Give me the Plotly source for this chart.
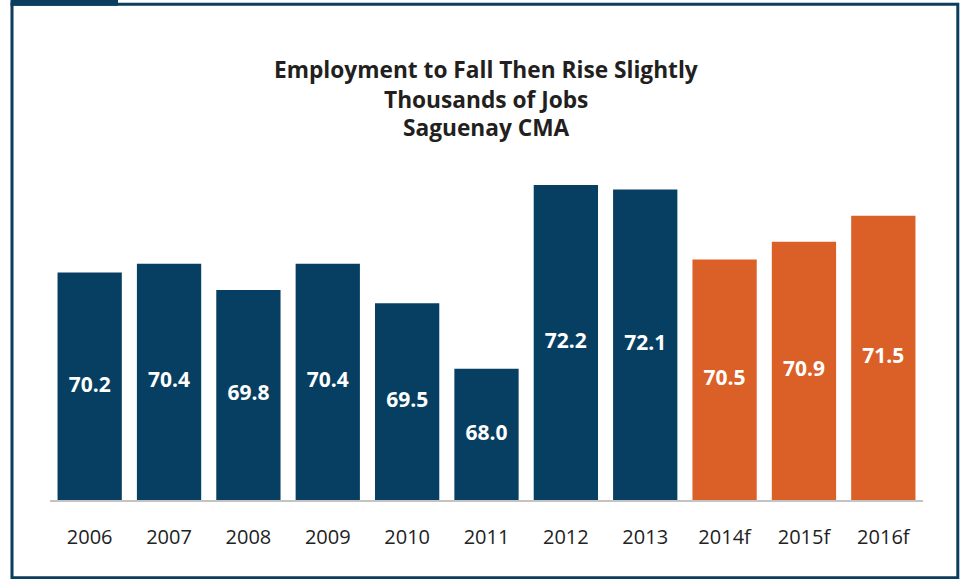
import plotly.graph_objects as go

categories = ["2006", "2007", "2008", "2009", "2010", "2011", "2012", "2013", "2014f", "2015f", "2016f"]
values = [70.2, 70.4, 69.8, 70.4, 69.5, 68.0, 72.2, 72.1, 70.5, 70.9, 71.5]
is_forecast = [False] * 8 + [True] * 3
title_lines = ["Employment to Fall Then Rise Slightly", "Thousands of Jobs", "Saguenay CMA"]
axis_min = 65

BLUE = "#073f62"
ORANGE = "#db6027"
FRAME = "#0b3d5e"

W, H = 961, 579
ML, MR, MT, MB = 50, 38, 150, 79
PW, PH = W - ML - MR, H - MT - MB

def px(x):
    return (x - ML) / PW

def py(y):
    return (H - MB - y) / PH

colors = [ORANGE if f else BLUE for f in is_forecast]

fig = go.Figure()
fig.add_trace(go.Bar(
    x=categories, y=values,
    marker=dict(color=colors, line=dict(width=0)),
    hoverinfo="x+y",
))
# value labels centred in the visible part of each bar
fig.add_trace(go.Scatter(
    x=categories, y=[(axis_min + v) / 2 for v in values],
    mode="text", text=[f"{v:.1f}" for v in values],
    textposition="middle center",
    textfont=dict(family="Open Sans", size=21, color="white", weight="bold"),
    hoverinfo="skip",
))

fig.update_layout(
    width=W, height=H,
    margin=dict(l=ML, r=MR, t=MT, b=MB),
    paper_bgcolor="white", plot_bgcolor="white",
    bargap=0.19,
    showlegend=False,
    xaxis=dict(
        range=[-0.5, len(categories) - 0.5],
        showline=True, linecolor="#c3c3c3", linewidth=1.5,
        ticks="outside", ticklen=18, tickcolor="rgba(0,0,0,0)",
        tickfont=dict(family="Open Sans", size=20, color="#222222"),
        showgrid=False,
    ),
    yaxis=dict(range=[axis_min, 73], visible=False, showgrid=False),
)

# title lines
ys = [70, 99, 127]
for t, yy in zip(title_lines, ys):
    fig.add_annotation(
        xref="paper", yref="paper", x=px(486), y=py(yy),
        text=f"<b>{t}</b>", showarrow=False, xanchor="center", yanchor="middle",
        font=dict(family="Open Sans", size=22.7, color="#231f20"),
    )

# frame
fig.add_shape(type="rect", xref="paper", yref="paper",
              x0=px(12), x1=px(957.8), y0=py(577.8), y1=py(4.3),
              line=dict(color=FRAME, width=3), fillcolor="rgba(0,0,0,0)", layer="above")
# tab
fig.add_shape(type="rect", xref="paper", yref="paper",
              x0=px(10.5), x1=px(118), y0=py(5.7), y1=py(0),
              line=dict(width=0), fillcolor=FRAME, layer="above")

fig.write_html("out.html")
